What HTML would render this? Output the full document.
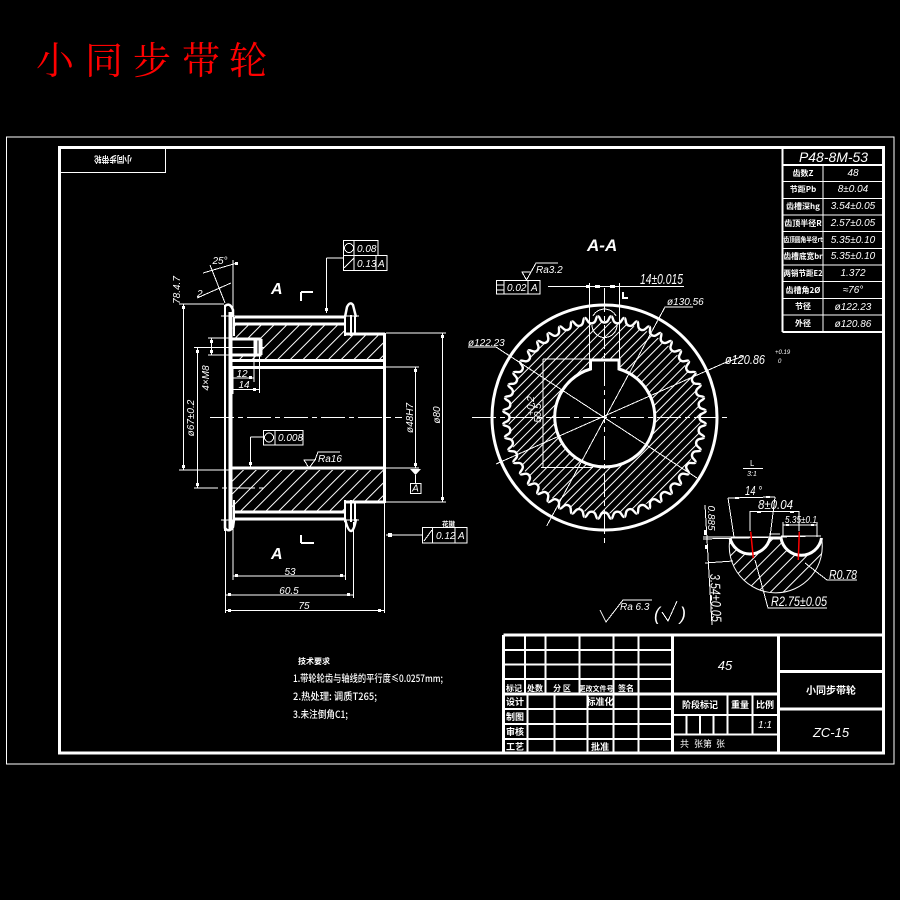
<!DOCTYPE html>
<html><head><meta charset="utf-8"><style>
html,body{margin:0;padding:0;background:#000}
svg{display:block}
.t,.k,.m{fill:none;stroke:#fff;shape-rendering:crispEdges}
.t{stroke-width:1}.m{stroke-width:2}.k{stroke-width:3}
.c{stroke-dasharray:24 4 5 4}
text{fill:#fff;font-family:"Liberation Sans","Noto Sans CJK SC",sans-serif;font-style:italic;font-size:10px}
.z{font-style:normal;font-family:"Noto Sans CJK SC","Liberation Sans",sans-serif;font-weight:700;font-size:9px}
.b{font-style:italic;font-weight:700;font-size:16px}
.a{text-anchor:middle}
.r{fill:#f00;font-style:normal;font-family:"Noto Serif CJK SC","Noto Sans CJK SC",serif;font-size:38px}
</style></head><body>
<svg xmlns="http://www.w3.org/2000/svg" width="900" height="900" viewBox="0 0 900 900">
<defs>
<pattern id="h1" patternUnits="userSpaceOnUse" width="9" height="9" patternTransform="rotate(45)"><rect width="1" height="9" fill="#fff"/></pattern>
<pattern id="h2" patternUnits="userSpaceOnUse" width="6.4" height="9" patternTransform="rotate(45)"><rect width="1" height="9" fill="#fff"/></pattern>
<clipPath id="dc"><circle cx="604.5" cy="417.5" r="96"/></clipPath>
<path id="tt" d="M-6.45-101.2C-4.2-101.2-4.8-95 0-95C4.8-95 4.2-101.2 6.45-101.2" fill="none" stroke="#fff" stroke-width="2.4"/>
<g id="t2"><use href="#tt"/><use href="#tt" transform="rotate(7.5)"/></g>
<g id="t4"><use href="#t2"/><use href="#t2" transform="rotate(15)"/></g>
<g id="t8"><use href="#t4"/><use href="#t4" transform="rotate(30)"/></g>
<g id="t16"><use href="#t8"/><use href="#t8" transform="rotate(60)"/></g>
</defs>
<rect width="900" height="900" fill="#000"/>
<text class="r" x="36" y="74">小</text><text class="r" x="85" y="74">同</text><text class="r" x="133" y="74">步</text><text class="r" x="182" y="74">带</text><text class="r" x="229" y="74">轮</text>
<rect class="t" x="6.5" y="137" width="887.5" height="627"/>
<rect class="k" x="59.5" y="147.5" width="824" height="605.5"/>
<rect class="t" x="59.5" y="147.5" width="106" height="25"/>
<text class="z a" transform="translate(113,156) rotate(180)" textLength="38" lengthAdjust="spacingAndGlyphs">小同步带轮</text>

<!-- left view -->
<path fill="url(#h1)" d="M233 325H345V335H383V360H232Z"/>
<path fill="url(#h1)" d="M232 470H383V501H345V511H232Z"/>
<rect x="232" y="339" width="30" height="16" fill="#000"/>
<path class="m" d="M225 305V531"/>
<path class="k" style="stroke-width:4" d="M230.5 312V530"/>
<path class="k" d="M384.5 333V503M345 334H385M345 502H385M232 360.5H386M232 367.5H386M232 468H386M235 317H345M235 324H345M235 512H345M235 519H345"/>
<path class="t" d="M221 316H359M221 520H359"/>
<path class="m" d="M345 315V336M351 315V336M355 316V334M234 317V336M345 500V522M351 500V522M355 502V521M234 500V520"/>
<path fill="none" stroke="#fff" stroke-width="2.5" d="M345 317L347 307Q350 301 353 305L356 317M225 306Q230 302 233 310V317M345 519Q348 531 351 531Q354 531 356 519M225 520V528Q229 533 233 527L234 520"/>
<path class="k" d="M232 339H260V355H232M256 339V355M261 339V355"/>
<path class="t c" d="M210 417.5H402M231 347.5H264M194 488H267"/>
<path class="t" d="M179 304H224M183.5 304V470M179 470H230M194 347.5H232M197.5 347.5V488M208 338H232M208 355H232M211.5 338V355M233 378H254M254 338V382M233 389.5H259.5M259.5 338V393M233 367V394"/>
<path class="t" d="M203 273L237 263M210 265L225 303M233 260V313M197 298L231 283"/>
<path class="t" d="M386 333H446M442.5 333V502M386 367H419M415.5 367V468M386 468H419M386 502H446M415.5 475V483"/>
<path d="M410 469H421L415.5 475Z" fill="#fff"/>
<rect class="t" x="410.5" y="483.5" width="10.5" height="10"/>
<path class="t" d="M233 520V580M345.5 520V580M353.5 522V598M225.5 530V613M384.5 503V613M233 576H345M226 595H353M226 610.5H384"/>
<path fill="#fff" d="M182 306h3v3h-3zM182 465h3v3h-3zM196 350h3v3h-3zM196 483h3v3h-3zM210 340h3v3h-3zM210 350h3v3h-3zM249 376h3v3h-3zM253 388h3v3h-3zM441 335h3v3h-3zM441 497h3v3h-3zM414 369h3v3h-3zM414 463h3v3h-3zM235 574h3v3h-3zM340 574h3v3h-3zM228 593h3v3h-3zM347 593h3v3h-3zM228 609h3v3h-3zM378 609h3v3h-3zM325 308h3v3h-3zM249 462h3v3h-3zM388 533h4v4h-4zM235 262h3v3h-3z"/>
<text class="a" x="220" y="264" font-size="9">25°</text>
<text x="197" y="297" font-size="9">2</text>
<text class="a" font-size="9" transform="translate(180,290) rotate(-90)">78.4.7</text>
<text class="a" font-size="9" transform="translate(194,418) rotate(-90)">ø67±0.2</text>
<text class="a" font-size="9" transform="translate(209,378) rotate(-90)">4×M8</text>
<text class="a" x="242" y="377" font-size="8">12</text>
<text class="a" x="244" y="388" font-size="8">14</text>
<text class="a" font-size="9" transform="translate(413,418) rotate(-90)">ø48H7</text>
<text class="a" font-size="9" transform="translate(440,415) rotate(-90)">ø80</text>
<text class="a" x="415.5" y="491.5" font-size="8">A</text>
<text class="a" x="290" y="575" font-size="10">53</text>
<text class="a" x="289" y="594" font-size="10">60.5</text>
<text class="a" x="304" y="609" font-size="10">75</text>
<text class="b" x="271" y="294">A</text>
<text class="b" x="271" y="559">A</text>
<path class="m" d="M301 292V301M301 292H313M301 535V543M301 543H314"/>
<!-- GD&T left -->
<path class="t" d="M343.5 240.5H378V255.5H343.5ZM343.5 255.5H387V270.5H343.5ZM354 240.5V270.5M376 255.5V270.5M326.5 258H343M326.5 258V313M344 268L354 258"/>
<circle class="t" cx="349" cy="248" r="4.5"/>
<text x="357" y="252" font-size="9">0.08</text>
<text x="357" y="267" font-size="9">0.13</text>
<text x="378" y="267" font-size="9">A</text>
<path class="t" d="M263.5 430.5H303V445H263.5ZM275 430.5V445M250.5 437H263M250.5 437V468"/>
<circle class="t" cx="269" cy="437.5" r="4.5"/>
<text x="278" y="441" font-size="9">0.008</text>
<path class="t" d="M304 460H315L309 468ZM315 460L318 452H340"/>
<text x="318" y="462" font-size="8">Ra16</text>
<path class="t" d="M422.5 527.5H467V543H422.5ZM432.5 527.5V543M455 527.5V543M386 535H422M424 541L432 530"/>
<text x="436" y="539" font-size="9">0.12</text>
<text x="458" y="539" font-size="9">A</text>
<text class="z" x="442" y="526" style="font-size:6.5px">花键</text>

<!-- section view -->
<text class="b" x="587" y="251" style="font-size:17px">A-A</text>
<circle cx="604.5" cy="417.5" r="112.5" fill="none" stroke="#fff" stroke-width="3"/>
<g clip-path="url(#dc)"><rect x="500" y="315" width="210" height="205" fill="url(#h2)"/></g>
<g transform="translate(604.5,417.5)"><use href="#t16"/><use href="#t16" transform="rotate(120)"/><use href="#t16" transform="rotate(240)"/></g>
<path d="M590.5 360H619V369A50 50 0 1 1 590.5 369Z" fill="#000" stroke="#fff" stroke-width="3"/>
<path class="t" d="M589.5 283V360M619.5 283V360M543 359H590M541 467.5H593M543 359V468"/>
<path class="t c" d="M472 417.5H731M604.5 288V545"/>
<path class="t" d="M546.7 526L665 307H693M496 347H468M496 347L697 478M725 362.7L496 464M725 362.7L744 356M548 286.5H684"/>
<path class="t" d="M592 325A12.5 12.5 0 0 0 617 325M593 316A13 13 0 0 1 616 316"/>
<path class="m" d="M623 292V298H628"/>
<text x="640" y="284" style="font-size:15px" textLength="43" lengthAdjust="spacingAndGlyphs">14±0.015</text>
<text x="667" y="305" font-size="9">ø130.56</text>
<text x="468" y="346" font-size="9">ø122.23</text>
<text x="725" y="364" style="font-size:13px" textLength="40" lengthAdjust="spacingAndGlyphs">ø120.86</text>
<text x="775" y="354" style="font-size:6px">+0.19</text>
<text x="778" y="363" style="font-size:6px">0</text>
<text class="a" font-size="9" transform="translate(541,413) rotate(-90)">50.5</text>
<text class="a" font-size="7" transform="translate(534,406) rotate(-90)">+0.2</text>
<path class="t" d="M522 272H531L526.5 280ZM531 272L536 263H558M496.5 280.5H540V294H496.5ZM504 280.5V294M528 280.5V294M496 285H504M496 290H504"/>
<text x="536" y="273" font-size="9">Ra3.2</text>
<text x="507" y="291" font-size="9">0.02</text>
<text x="531" y="291" font-size="8">A</text>
<path fill="#fff" d="M586 285h4v3h-4zM595 285h5v3h-5zM610 285h5v3h-5z"/>

<!-- detail -->
<text class="a z" x="752" y="466" style="font-weight:400;font-size:8px">L</text>
<path class="t" d="M743 468.5H763"/>
<text class="a" x="752" y="476" style="font-size:7px">3:1</text>
<path class="t" d="M728 498L775 497M728 498L734 537M775 497L770 537M750 511.5H799M750 511V531M799 511V531M783 525H817M783 522V537M817 522V537"/>
<text x="745" y="495" style="font-size:13px" textLength="17" lengthAdjust="spacingAndGlyphs">14 °</text>
<text x="758" y="509" style="font-size:13px" textLength="35" lengthAdjust="spacingAndGlyphs">8±0.04</text>
<text x="785" y="523" style="font-size:10px" textLength="32" lengthAdjust="spacingAndGlyphs">5.35±0.1</text>
<path d="M730 538A20.5 20.5 0 0 0 770 538L781 538A20.5 20.5 0 0 0 821.5 538A46.5 46.5 0 1 1 730 538Z" fill="url(#h1)"/>
<path d="M730 538A20.5 20.5 0 0 0 770 538L781 538A20.5 20.5 0 0 0 821.5 538" fill="none" stroke="#fff" stroke-width="3"/>
<path d="M730 538A46.5 46.5 0 1 0 821.5 538" fill="none" stroke="#fff" stroke-width="1"/>
<path class="t" d="M703 539L815 536M703 537H770M769 534H780M781 536H821M705 505L712 625M705 563L733 561M805 563L827 580H857M755 560L768 608H827"/>
<path d="M750.7 531.7L753.3 558M799.3 531.7L798.3 560" stroke="#f00" stroke-width="1.5" fill="none"/>
<path fill="#fff" d="M735 497h4v2h-4zM766 496h4v2h-4zM757 511h4v2h-4zM790 511h4v2h-4zM786 524h3v2h-3zM811 524h3v2h-3zM704 530h3v5h-3zM705 545h3v4h-3z"/>
<text x="829" y="579" style="font-size:13px" textLength="28" lengthAdjust="spacingAndGlyphs">R0.78</text>
<text x="771" y="606" style="font-size:14px" textLength="56" lengthAdjust="spacingAndGlyphs">R2.75±0.05</text>
<text class="a" font-size="8" transform="translate(708,518) rotate(90)">0.885</text>
<text class="a" transform="translate(711,598) rotate(88)" style="font-size:14px" textLength="48" lengthAdjust="spacingAndGlyphs">3.54±0.05</text>

<!-- spec table -->
<path class="m" d="M782.5 148V332M782.5 332H884M782.5 165H884"/>
<path class="t" d="M782.5 181.7H884M782.5 198.4H884M782.5 215H884M782.5 231.7H884M782.5 248.4H884M782.5 265H884M782.5 281.7H884M782.5 298.4H884M782.5 315H884M823 165V332"/>
<text x="799" y="162" style="font-size:14px" textLength="69" lengthAdjust="spacingAndGlyphs">P48-8M-53</text>
<g>
<text class="z a" x="803" y="176" style="font-size:8px">齿数Z</text>
<text class="z a" x="803" y="192" style="font-size:8px">节距Pb</text>
<text class="z a" x="803" y="209" style="font-size:8px">齿槽深hg</text>
<text class="z a" x="803" y="226" style="font-size:8px">齿顶半径R</text>
<text class="z a" x="803" y="242" style="font-size:7px" textLength="39" lengthAdjust="spacingAndGlyphs">齿顶圆角半径rt</text>
<text class="z a" x="803" y="259" style="font-size:8px" textLength="39" lengthAdjust="spacingAndGlyphs">齿槽底宽br</text>
<text class="z a" x="803" y="276" style="font-size:8px" textLength="39" lengthAdjust="spacingAndGlyphs">两销节距E2</text>
<text class="z a" x="803" y="293" style="font-size:8px">齿槽角2Ø</text>
<text class="z a" x="803" y="309" style="font-size:8px">节径</text>
<text class="z a" x="803" y="326" style="font-size:8px">外径</text>
<text class="a" x="853" y="176" font-size="9">48</text>
<text class="a" x="853" y="192" font-size="9">8±0.04</text>
<text class="a" x="853" y="209" font-size="9">3.54±0.05</text>
<text class="a" x="853" y="226" font-size="9">2.57±0.05</text>
<text class="a" x="853" y="243" font-size="9">5.35±0.10</text>
<text class="a" x="853" y="259" font-size="9">5.35±0.10</text>
<text class="a" x="853" y="276" font-size="9">1.372</text>
<text class="a" x="853" y="293" font-size="9">≈76°</text>
<text class="a" x="853" y="310" font-size="9">ø122.23</text>
<text class="a" x="853" y="327" font-size="9">ø120.86</text>
</g>

<!-- Ra & tech reqs -->
<path class="t" d="M600 610L606 622L623 600H652"/>
<text x="620" y="610" font-size="9">Ra 6.3</text>
<text x="654" y="620" style="font-size:18px">(</text>
<path class="t" d="M662 612L668 621L677 601"/>
<text x="680" y="620" style="font-size:18px">)</text>
<text class="z" x="298" y="664" style="font-size:8px">技术要求</text>
<text class="z" x="293" y="682" style="font-size:10px;font-weight:500" textLength="150" lengthAdjust="spacingAndGlyphs">1.带轮轮齿与轴线的平行度≤0.0257mm;</text>
<text class="z" x="293" y="700" style="font-size:10px;font-weight:500" textLength="84" lengthAdjust="spacingAndGlyphs">2.热处理: 调质T265;</text>
<text class="z" x="293" y="718" style="font-size:10px;font-weight:500" textLength="55" lengthAdjust="spacingAndGlyphs">3.未注倒角C1;</text>

<!-- title block -->
<path class="k" d="M503.5 635H883.5M503.5 635V753M672.5 635V753M778.5 635V753M503.5 694H778.5M503.5 753H883.5M778.5 671.5H883.5M778.5 709H883.5"/>
<path class="m" d="M525 635V694M545.7 635V694M579.3 635V694M613.3 635V753M638.7 635V753M527.3 694V753M554.3 694V753M587.3 694V753M503.5 650H672M503.5 664.3H672M503.5 679H672M503.5 709H672M503.5 724H672M503.5 739H672M672.5 715H778M672.5 734.3H778M727.3 694V734M752.3 694V734M686.7 715V734M700 715V734M713.3 715V734"/>
<g>
<text class="z a" x="514" y="691" style="font-size:8px">标记</text><text class="z a" x="535" y="691" style="font-size:8px">处数</text><text class="z a" x="562" y="691" style="font-size:8px">分 区</text><text class="z a" x="596" y="691" style="font-size:7px">更改文件号</text><text class="z a" x="626" y="691" style="font-size:8px">签名</text>
<text class="z a" x="515" y="705">设计</text><text class="z a" x="600" y="705">标准化</text>
<text class="z a" x="515" y="720">制图</text><text class="z a" x="515" y="735">审核</text><text class="z a" x="515" y="750">工艺</text><text class="z a" x="600" y="750">批准</text>
<text class="z a" x="700" y="708">阶段标记</text><text class="z a" x="740" y="708">重量</text><text class="z a" x="765" y="708">比例</text>
<text class="a" x="765" y="728" font-size="8">1:1</text>
<text class="z" x="680" y="747" style="font-weight:400">共</text><text class="z" x="694" y="747" style="font-weight:400">张</text><text class="z" x="703" y="747" style="font-weight:400">第</text><text class="z" x="716" y="747" style="font-weight:400">张</text>
<text class="a" x="725" y="670" style="font-size:13px">45</text>
<text class="z a" x="831" y="694" style="font-size:10px">小同步带轮</text>
<text class="a" x="831" y="737" style="font-size:13px">ZC-15</text>
</g>
</svg>
</body></html>
